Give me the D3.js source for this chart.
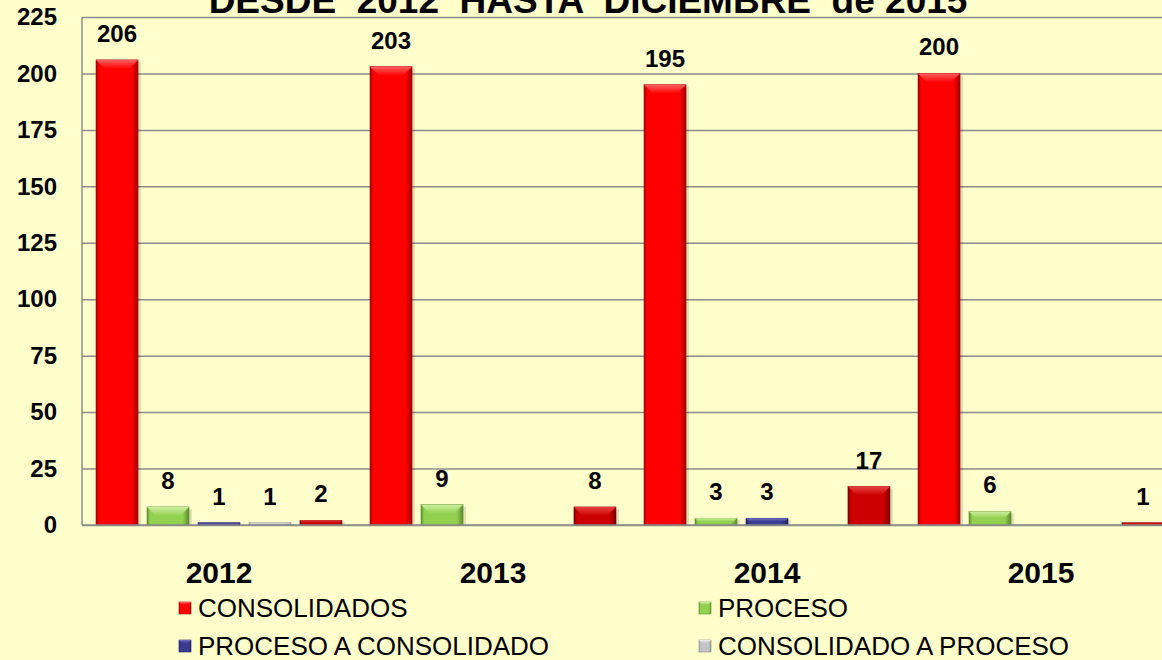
<!DOCTYPE html>
<html>
<head>
<meta charset="utf-8">
<script src="https://cdn.jsdelivr.net/npm/d3@7"></script>
<style>
  html, body { margin: 0; padding: 0; background: #FFFFCC; }
  svg { display: block; font-family: "Liberation Sans", Arial, sans-serif; }
</style>
</head>
<body>
<svg id="chart"></svg>
<script>
const years = ['2012', '2013', '2014', '2015'];
const seriesNames = ['CONSOLIDADOS', 'PROCESO', 'PROCESO A CONSOLIDADO', 'CONSOLIDADO A PROCESO', 'serie5'];
const consolidados = [206, 203, 195, 200];
const proceso = [8, 9, 3, 6];
const procesoAConsolidado = [1, 0, 3, 0];
const consolidadoAProceso = [1, 0, 0, 0];
const serie5 = [2, 8, 17, 1];
const yTicks = [0, 25, 50, 75, 100, 125, 150, 175, 200, 225];
const legendNames = ['CONSOLIDADOS', 'PROCESO', 'PROCESO A CONSOLIDADO', 'CONSOLIDADO A PROCESO'];
const title = 'DESDE  2012  HASTA  DICIEMBRE  de 2015';

const values = [consolidados, proceso, procesoAConsolidado, consolidadoAProceso, serie5];

// base / light / dark for the bevel look
const palette = [
  {base: '#FF0000', light: '#FF6060', dark: '#A00000'},
  {base: '#92D050', light: '#CDEFA0', dark: '#5E8A30'},
  {base: '#3B3B92', light: '#7070C8', dark: '#202060'},
  {base: '#C4C4C4', light: '#F0F0F0', dark: '#8A8A8A'},
  {base: '#CC0000', light: '#E84040', dark: '#7A0000'}
];

const width = 1162;
const height = 660;
const margin = {left: 82, top: 17, bottom: 525, right: 1178};

const svg = d3.select('#chart')
  .attr('width', width)
  .attr('height', height);

svg.append('rect')
  .attr('width', width)
  .attr('height', height)
  .attr('fill', '#FFFFCC');

const defs = svg.append('defs');
palette.forEach((c, i) => {
  const g = defs.append('linearGradient')
    .attr('id', `side${i}`)
    .attr('x1', 0).attr('x2', 1).attr('y1', 0).attr('y2', 0);
  g.append('stop').attr('offset', '0%').attr('stop-color', c.dark);
  g.append('stop').attr('offset', '7%').attr('stop-color', c.base);
  g.append('stop').attr('offset', '85%').attr('stop-color', c.base);
  g.append('stop').attr('offset', '100%').attr('stop-color', c.dark);
  const t = defs.append('linearGradient')
    .attr('id', `top${i}`)
    .attr('x1', 0).attr('x2', 0).attr('y1', 0).attr('y2', 1);
  t.append('stop').attr('offset', '0%').attr('stop-color', c.light);
  t.append('stop').attr('offset', '100%').attr('stop-color', c.base);
});

const x0 = d3.scaleBand()
  .domain(years)
  .range([margin.left, margin.right]);

const x1 = d3.scaleBand()
  .domain(d3.range(values.length))
  .range([0, x0.bandwidth()])
  .paddingInner(0.176)
  .paddingOuter(0.275);

const y = d3.scaleLinear()
  .domain([0, 225])
  .range([margin.bottom, margin.top]);

// gridlines
svg.append('g')
  .attr('class', 'grid')
  .attr('transform', `translate(${margin.left}, 0)`)
  .call(d3.axisLeft(y).tickValues(yTicks).tickSize(-(margin.right - margin.left)).tickFormat(''))
  .call(g => g.select('.domain').remove())
  .call(g => g.selectAll('line').attr('stroke', '#8C8C8C').attr('stroke-width', 1.5));

// left border
svg.append('line')
  .attr('x1', margin.left).attr('x2', margin.left)
  .attr('y1', margin.top).attr('y2', margin.bottom)
  .attr('stroke', '#8C8C8C').attr('stroke-width', 1.5);

// y labels
svg.append('g')
  .attr('class', 'yAxis')
  .attr('transform', `translate(${margin.left}, 0)`)
  .call(d3.axisLeft(y).tickValues(yTicks).tickSize(0).tickPadding(25))
  .call(g => g.select('.domain').remove())
  .call(g => g.selectAll('text')
    .attr('font-size', 24).attr('font-weight', 'bold').attr('fill', '#000')
    .attr('font-family', '"Liberation Sans", Arial, sans-serif'));

// bars
const bars = [];
years.forEach((yr, gi) => {
  values.forEach((arr, si) => {
    bars.push({year: yr, s: si, v: arr[gi]});
  });
});

const barG = svg.append('g').selectAll('.bar')
  .data(bars.filter(d => d.v > 0))
  .enter()
  .append('g')
  .attr('class', 'bar')
  .attr('transform', d => `translate(${x0(d.year) + x1(d.s)}, ${y(d.v)})`);

const bw = x1.bandwidth();

barG.append('rect')
  .attr('x', 3).attr('y', 2)
  .attr('width', bw)
  .attr('height', d => y(0) - y(d.v) - 2)
  .attr('fill', 'rgba(0,0,0,0.12)');

barG.append('rect')
  .attr('width', bw)
  .attr('height', d => y(0) - y(d.v))
  .attr('fill', d => `url(#side${d.s})`)
  .attr('stroke', d => palette[d.s].dark)
  .attr('stroke-width', 0.6);

barG.append('polygon')
  .attr('points', d => {
    const h = y(0) - y(d.v);
    const b = Math.min(9, h / 2, bw / 4);
    return `0,0 ${bw},0 ${bw - b},${b} ${b},${b}`;
  })
  .attr('fill', d => `url(#top${d.s})`);

// value labels
svg.append('g').selectAll('.val')
  .data(bars.filter(d => d.v > 0))
  .enter()
  .append('text')
  .attr('class', 'val')
  .attr('x', d => x0(d.year) + x1(d.s) + bw / 2)
  .attr('y', d => y(d.v) - 18)
  .attr('text-anchor', 'middle')
  .attr('font-size', 24)
  .attr('font-weight', 'bold')
  .text(d => d.v);

// baseline
svg.append('line')
  .attr('x1', margin.left).attr('x2', margin.right)
  .attr('y1', y(0)).attr('y2', y(0))
  .attr('stroke', '#8C8C8C').attr('stroke-width', 1.5);

// x labels
svg.append('g')
  .attr('class', 'xAxis')
  .attr('transform', `translate(0, ${y(0)})`)
  .call(d3.axisBottom(x0).tickSize(0))
  .call(g => g.select('.domain').remove())
  .call(g => g.selectAll('text')
    .attr('y', 58).attr('dy', null)
    .attr('font-size', 30).attr('font-weight', 'bold').attr('fill', '#000')
    .attr('font-family', '"Liberation Sans", Arial, sans-serif'));

// title (cut off at the top)
svg.append('text')
  .attr('x', 588)
  .attr('y', 13)
  .attr('text-anchor', 'middle')
  .attr('font-size', 37)
  .attr('font-weight', 'bold')
  .style('white-space', 'pre')
  .text(title);

// legend
const legendPos = [[179, 617], [699, 617], [179, 655], [699, 655]];
const leg = svg.append('g').selectAll('.leg')
  .data(legendNames)
  .enter()
  .append('g')
  .attr('class', 'leg')
  .attr('transform', (d, i) => `translate(${legendPos[i][0]}, ${legendPos[i][1]})`);

leg.append('rect')
  .attr('x', 0).attr('y', -15)
  .attr('width', 12).attr('height', 12)
  .attr('fill', (d, i) => `url(#side${i})`)
  .attr('stroke', (d, i) => palette[i].dark)
  .attr('stroke-width', 0.6);

leg.append('polygon')
  .attr('points', '0,-15 12,-15 9,-12 3,-12')
  .attr('fill', (d, i) => `url(#top${i})`);

leg.append('text')
  .attr('x', 19)
  .attr('y', 0)
  .attr('font-size', 26)
  .text(d => d);
</script>
</body>
</html>
